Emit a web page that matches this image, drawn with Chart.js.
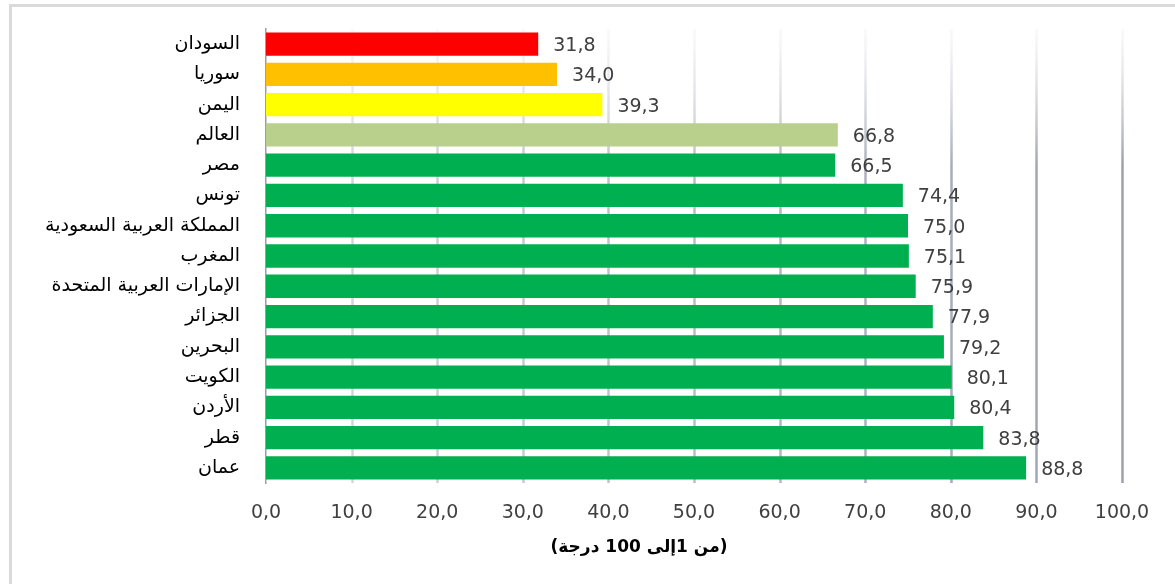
<!DOCTYPE html>
<html lang="ar">
<head>
<meta charset="utf-8">
<title>مؤشر</title>
<script src="https://cdn.jsdelivr.net/npm/chart.js@4.4.1/dist/chart.umd.min.js"></script>
<style>
  html, body { margin: 0; padding: 0; background: #ffffff; overflow: hidden; }
  #wrap { position: relative; width: 1175px; height: 584px; }
  #frame { position: absolute; left: 9px; top: 4px; width: 2000px; height: 2000px;
           border-left: 3px solid #dadada; border-top: 3px solid #dadada; box-sizing: border-box; }
  #c { position: absolute; left: 0; top: 0; }
</style>
</head>
<body>
<div id="wrap">
  <div id="frame"></div>
  <canvas id="c" width="1175" height="584"></canvas>
</div>
<script>
// Countries (top to bottom) and their scores, 1–100
const categories = [
  'السودان', 'سوريا', 'اليمن', 'العالم', 'مصر', 'تونس',
  'المملكة العربية السعودية', 'المغرب', 'الإمارات العربية المتحدة',
  'الجزائر', 'البحرين', 'الكويت', 'الأردن', 'قطر', 'عمان'
];
const scores = [31.8, 34.0, 39.3, 66.8, 66.5, 74.4, 75.0, 75.1, 75.9, 77.9, 79.2, 80.1, 80.4, 83.8, 88.8];
const barColors = [
  '#ff0000', '#ffc000', '#ffff00', '#b9cf8c', '#00b050', '#00b050', '#00b050', '#00b050',
  '#00b050', '#00b050', '#00b050', '#00b050', '#00b050', '#00b050', '#00b050'
];
const axisTitle = '(من 1إلى 100 درجة)';
const xMin = 0, xMax = 100, xStep = 10;

const fmt = v => v.toFixed(1).replace('.', ',');

// Soft vertical grid lines that fade out towards the top of the plot
const fadedGrid = {
  id: 'fadedGrid',
  beforeDatasetsDraw(chart) {
    const { ctx, chartArea: a, scales: { x } } = chart;
    ctx.save();
    x.ticks.forEach(t => {
      if (t.value === xMin) return;
      const px = Math.round(x.getPixelForValue(t.value)) + 0.5;
      const k = (t.value - xMin) / (xMax - xMin);
      const g = ctx.createLinearGradient(0, a.top, 0, a.bottom);
      const dark = `rgba(130,136,158,${0.3 + 0.5 * k})`;
      g.addColorStop(0, 'rgba(235,236,240,0.3)');
      g.addColorStop(0.3, dark);
      g.addColorStop(1, dark);
      ctx.strokeStyle = g;
      ctx.lineWidth = 2.5;
      ctx.beginPath();
      ctx.moveTo(px, a.top);
      ctx.lineTo(px, a.bottom);
      ctx.stroke();
    });
    ctx.restore();
  }
};

// Value written just past the end of each bar
const valueLabels = {
  id: 'valueLabels',
  afterDatasetsDraw(chart) {
    const { ctx } = chart;
    ctx.save();
    ctx.font = '19px "DejaVu Sans"';
    ctx.fillStyle = '#404040';
    ctx.textAlign = 'left';
    ctx.textBaseline = 'middle';
    chart.getDatasetMeta(0).data.forEach((bar, i) => {
      ctx.fillText(fmt(scores[i]), bar.x + 15, bar.y + 2);
    });
    ctx.restore();
  }
};

// Bold axis caption under the tick labels
const axisCaption = {
  id: 'axisCaption',
  afterDraw(chart, args, opts) {
    const { ctx } = chart;
    ctx.save();
    ctx.font = 'bold 17px "DejaVu Sans"';
    ctx.fillStyle = '#000000';
    ctx.textAlign = 'center';
    ctx.textBaseline = 'middle';
    ctx.direction = 'rtl';
    ctx.fillText(opts.text, opts.x, opts.y);
    ctx.restore();
  }
};

new Chart(document.getElementById('c'), {
  type: 'bar',
  data: {
    labels: categories,
    datasets: [{
      data: scores,
      backgroundColor: barColors,
      borderWidth: 0,
      barPercentage: 0.77,
      categoryPercentage: 1.0
    }]
  },
  options: {
    indexAxis: 'y',
    responsive: false,
    animation: false,
    layout: { padding: { top: 29, right: 53, left: 0, bottom: 0 } },
    plugins: {
      legend: { display: false },
      tooltip: { enabled: false },
      axisCaption: { text: axisTitle, x: 639, y: 548 }
    },
    scales: {
      x: {
        min: xMin, max: xMax,
        grid: { display: false, drawTicks: false },
        border: { display: false },
        ticks: {
          stepSize: xStep,
          padding: 19,
          color: '#404040',
          font: { family: 'DejaVu Sans', size: 19 },
          callback: v => fmt(v)
        },
        afterFit(s) { s.height = 101; s.paddingTop = 0; s.paddingBottom = 0; }
      },
      y: {
        grid: { display: false, drawTicks: false },
        border: { display: true, color: '#9a9ea8', width: 1.5 },
        ticks: {
          padding: 26,
          color: '#000000',
          font: { family: 'DejaVu Sans', size: 19 }
        },
        afterFit(s) { s.width = 266; s.paddingTop = 0; s.paddingBottom = 0; }
      }
    }
  },
  plugins: [fadedGrid, valueLabels, axisCaption]
});
</script>
</body>
</html>
